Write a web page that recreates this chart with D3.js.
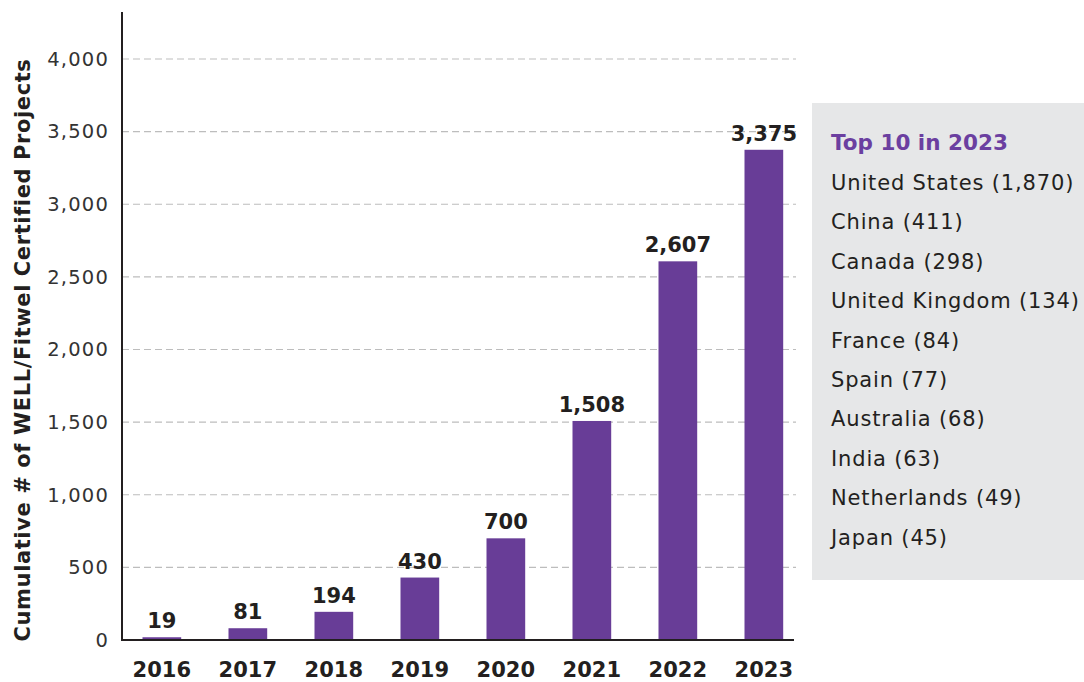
<!DOCTYPE html>
<html>
<head>
<meta charset="utf-8">
<script src="https://cdn.jsdelivr.net/npm/d3@7"></script>
<style>
  body { margin: 0; background: #fff; }
  svg { display: block; font-family: "DejaVu Sans", sans-serif; }
</style>
</head>
<body>
<svg id="chart" width="1084" height="682"></svg>
<script>
// data
const years = ["2016", "2017", "2018", "2019", "2020", "2021", "2022", "2023"];
const projects = [19, 81, 194, 430, 700, 1508, 2607, 3375];
const yTicks = [0, 500, 1000, 1500, 2000, 2500, 3000, 3500, 4000];
const topCountries = ["United States", "China", "Canada", "United Kingdom", "France",
                      "Spain", "Australia", "India", "Netherlands", "Japan"];
const topCounts = [1870, 411, 298, 134, 84, 77, 68, 63, 49, 45];

const svg = d3.select("#chart");
const purple = "#683d97";
const fmt = d3.format(",");

const x = d3.scaleBand()
    .domain(years)
    .range([121, 804.7])
    .paddingInner(0.55)
    .paddingOuter(0.25);

const y = d3.scaleLinear()
    .domain([0, 4000])
    .range([640, 59]);

// grid
svg.append("g")
    .selectAll("line")
    .data(yTicks.filter(d => d > 0))
    .join("line")
    .attr("x1", 122)
    .attr("x2", 796)
    .attr("y1", d => y(d))
    .attr("y2", d => y(d))
    .style("stroke", "#bdbdbd")
    .style("stroke-width", 1.2)
    .style("stroke-dasharray", "7,4");

// y tick labels
svg.append("g")
    .selectAll("text")
    .data(yTicks)
    .join("text")
    .attr("x", 109)
    .attr("y", d => y(d))
    .attr("dy", "0.35em")
    .attr("text-anchor", "end")
    .style("font-size", "19.5px")
    .style("letter-spacing", "1.2px")
    .style("fill", "#333")
    .text(d => fmt(d));

// bars
svg.append("g")
    .selectAll("rect")
    .data(projects)
    .join("rect")
    .attr("x", (d, i) => x(years[i]))
    .attr("width", x.bandwidth())
    .attr("y", d => y(d))
    .attr("height", d => y(0) - y(d))
    .style("fill", purple);

// value labels
svg.append("g")
    .selectAll("text")
    .data(projects)
    .join("text")
    .attr("x", (d, i) => x(years[i]) + x.bandwidth() / 2)
    .attr("y", d => y(d) - 9)
    .attr("text-anchor", "middle")
    .style("font-size", "21px")
    .style("font-weight", "bold")
    .style("fill", "#231f20")
    .text(d => fmt(d));

// axes lines
svg.append("line")
    .attr("x1", 122).attr("x2", 122)
    .attr("y1", 12).attr("y2", 641)
    .style("stroke", "#231f20").style("stroke-width", 2);
svg.append("line")
    .attr("x1", 121).attr("x2", 794)
    .attr("y1", 640).attr("y2", 640)
    .style("stroke", "#231f20").style("stroke-width", 2);

// year labels
svg.append("g")
    .selectAll("text")
    .data(years)
    .join("text")
    .attr("x", d => x(d) + x.bandwidth() / 2)
    .attr("y", 677)
    .attr("text-anchor", "middle")
    .style("font-size", "21px")
    .style("font-weight", "bold")
    .style("fill", "#231f20")
    .text(d => d);

// y title
svg.append("text")
    .attr("transform", "translate(30,350) rotate(-90)")
    .attr("text-anchor", "middle")
    .style("font-size", "21px")
    .style("font-weight", "bold")
    .style("letter-spacing", "0.6px")
    .style("fill", "#231f20")
    .text("Cumulative # of WELL/Fitwel Certified Projects");

// top 10 box
const box = svg.append("g");
box.append("rect")
    .attr("x", 812).attr("y", 103)
    .attr("width", 272).attr("height", 477)
    .style("fill", "#e6e7e8");
box.append("text")
    .attr("x", 831).attr("y", 150)
    .style("font-size", "21.5px")
    .style("font-weight", "bold")
    .style("fill", "#6b3fa0")
    .text("Top 10 in 2023");
box.selectAll("text.country")
    .data(topCountries)
    .join("text")
    .attr("class", "country")
    .attr("x", 831)
    .attr("y", (d, i) => 190 + i * 39.4)
    .style("font-size", "21px")
    .style("letter-spacing", "0.85px")
    .style("fill", "#231f20")
    .text((d, i) => `${d} (${fmt(topCounts[i])})`);
</script>
</body>
</html>
